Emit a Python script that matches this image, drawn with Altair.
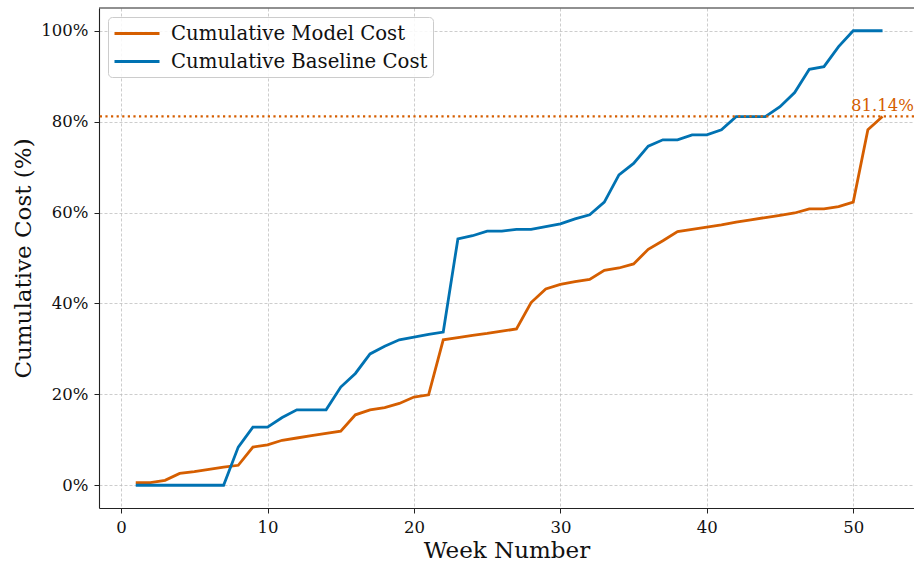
import altair as alt
import pandas as pd

weeks = list(range(1, 53))
model_cost = [0.6, 0.6, 1.1, 2.6, 3.0, 3.5, 4.0, 4.4, 8.4, 8.9,
              9.9, 10.4, 10.9, 11.4, 11.9, 15.5, 16.6, 17.1, 18.0, 19.4,
              19.9, 32.0, 32.5, 33.0, 33.4, 33.9, 34.4, 40.2, 43.2, 44.2,
              44.8, 45.3, 47.3, 47.8, 48.7, 51.9, 53.8, 55.8, 56.3, 56.8,
              57.3, 57.9, 58.4, 58.9, 59.4, 59.9, 60.8, 60.8, 61.3, 62.3,
              78.2, 81.14]
baseline_cost = [0, 0, 0, 0, 0, 0, 0, 8.4, 12.8, 12.8,
                 14.9, 16.6, 16.6, 16.6, 21.6, 24.6, 28.9, 30.6, 32.0, 32.6,
                 33.2, 33.7, 54.2, 54.9, 55.9, 55.9, 56.3, 56.3, 56.9, 57.5,
                 58.6, 59.5, 62.3, 68.3, 70.8, 74.6, 76.0, 76.0, 77.1, 77.1,
                 78.2, 81.1, 81.1, 81.1, 83.3, 86.4, 91.5, 92.1, 96.5, 100,
                 100, 100]
series_names = ["Cumulative Model Cost", "Cumulative Baseline Cost"]
series_colors = ["#D55E00", "#0072B2"]
final_model = 81.14
final_week = 52
x_ticks = [0, 10, 20, 30, 40, 50]
y_ticks = [0, 20, 40, 60, 80, 100]

W, H = 815, 500
FONT = "DejaVu Serif"

df = pd.concat([
    pd.DataFrame({"week": weeks, "cost": model_cost, "series": series_names[0]}),
    pd.DataFrame({"week": weeks, "cost": baseline_cost, "series": series_names[1]}),
])

xscale = alt.Scale(domain=[-1.51, 54.15], nice=False, zero=False)
yscale = alt.Scale(domain=[-5, 105], nice=False, zero=False)

lines = alt.Chart(df).mark_line(strokeWidth=2.8).encode(
    x=alt.X("week:Q", scale=xscale,
            axis=alt.Axis(values=x_ticks, format="d", title="Week Number")),
    y=alt.Y("cost:Q", scale=yscale,
            axis=alt.Axis(values=y_ticks, labelExpr="datum.value + '%'",
                          title="Cumulative Cost (%)")),
    color=alt.Color("series:N",
                    scale=alt.Scale(domain=series_names, range=series_colors),
                    sort=series_names,
                    legend=alt.Legend(title=None)),
)

ref_df = pd.DataFrame({"cost": [final_model], "week": [final_week],
                       "label": [f"{final_model:.2f}%"]})

hline = alt.Chart(ref_df).mark_rule(
    color=series_colors[0], strokeWidth=2.2, strokeDash=[2.2, 3.4]
).encode(y=alt.Y("cost:Q", scale=yscale))

label = alt.Chart(ref_df).mark_text(
    color=series_colors[0], font=FONT, fontSize=16.5, align="center",
    baseline="bottom", dy=-2
).encode(x=alt.X("week:Q", scale=xscale), y=alt.Y("cost:Q", scale=yscale),
         text="label:N")

top_spine = alt.Chart(ref_df).mark_rule(color="#222", strokeWidth=1.1).encode(
    x=alt.value(0), x2=alt.value(W), y=alt.value(0)
)

chart = alt.layer(lines, hline, label, top_spine).properties(
    width=W, height=H,
    autosize=alt.AutoSizeParams(type="none"),
    padding={"left": 99, "top": 8, "right": 0, "bottom": 54},
).configure_view(stroke=None).configure_axis(
    domainColor="#222", domainWidth=1.1, tickColor="#222", tickSize=5,
    tickWidth=1, labelFont=FONT, labelFontSize=16.5, labelColor="#111",
    titleFont=FONT, titleFontSize=23, titleFontWeight="normal", titleColor="#111",
    grid=True, gridColor="#b8b8b8", gridDash=[3, 2], gridWidth=0.7,
    labelPadding=6,
).configure_axisX(titlePadding=4).configure_axisY(titlePadding=5).configure_legend(
    orient="top-left", offset=9, padding=5,
    fillColor="rgba(255,255,255,0.85)", strokeColor="#cccccc", cornerRadius=4,
    symbolType="M-2.25,0H2.25", symbolSize=400, symbolStrokeWidth=2.8,
    symbolOffset=12.5,
    labelFont=FONT, labelFontSize=19.7, labelColor="#111", labelOffset=22.5,
    rowPadding=6, labelLimit=400,
)

chart.save("out.html", embed_options={"renderer": "svg", "actions": False})
